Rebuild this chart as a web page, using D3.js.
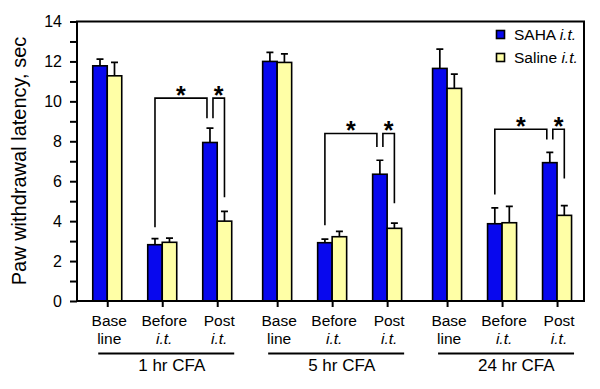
<!DOCTYPE html>
<html>
<head>
<meta charset="utf-8">
<script src="https://cdn.jsdelivr.net/npm/d3@7"></script>
<style>
  body { margin: 0; background: #fff; }
  text { font-family: "Liberation Sans", Arial, sans-serif; fill: #000; }
</style>
</head>
<body>
<div id="chart"></div>
<script>
// data
const groups = ["1 hr CFA", "5 hr CFA", "24 hr CFA"];
const categories = [["Base", "line"], ["Before", "i.t."], ["Post", "i.t."]];
const seriesNames = ["SAHA", "Saline"];
const sahaMean = [11.78, 2.82, 7.94, 12.0, 2.92, 6.35, 11.65, 3.87, 6.93];
const sahaErr = [0.34, 0.30, 0.72, 0.45, 0.18, 0.70, 0.97, 0.79, 0.51];
const salineMean = [11.28, 2.94, 4.0, 11.95, 3.22, 3.64, 10.65, 3.92, 4.29];
const salineErr = [0.67, 0.21, 0.49, 0.43, 0.27, 0.26, 0.71, 0.82, 0.49];
const yTicks = d3.range(0, 15, 1);
// significance brackets per group (values in sec)
const bracketTop = [10.16, 8.39, 8.6];
const bracketLeft = [3.7, 3.79, 5.34];   // leg over "Before" SAHA
const bracketMid = [9.16, 7.72, 8.09];   // legs over "Post" SAHA
const bracketRight = [5.2, 4.9, 6.13];   // leg over "Post" saline

const width = 600, height = 389;
const mLeft = 77, mRight = 584, mTop = 21.5, mBottom = 301;
const blue = "#0808ee", yellow = "#ffffa6";
const barW = 14.5;

const svg = d3.select("#chart").append("svg")
    .attr("width", width)
    .attr("height", height);

// category position = group offset + index within group
const rows = [];
groups.forEach((g, gi) => categories.forEach((c, ci) => {
    const i = gi * 3 + ci;
    rows.push({ gi, ci, pos: gi * 3.09 + ci, label: c,
        saha: sahaMean[i], sahaE: sahaErr[i], saline: salineMean[i], salineE: salineErr[i] });
}));

const x = d3.scaleLinear().domain([-0.55, 8.67]).range([mLeft, mRight]);
const y = d3.scaleLinear().domain([0, 14]).range([mBottom, mTop]);

// bars
const bars = [];
rows.forEach(d => {
    bars.push({ x0: x(d.pos) - barW, v: d.saha, e: d.sahaE, fill: blue });
    bars.push({ x0: x(d.pos), v: d.saline, e: d.salineE, fill: yellow });
});

svg.selectAll(".err").data(bars).enter().append("path")
    .attr("class", "err")
    .attr("d", d => {
        const cx = d.x0 + barW / 2, yt = y(d.v + d.e);
        return `M${cx},${y(d.v)}V${yt}M${cx - 3.5},${yt}H${cx + 3.5}`;
    })
    .attr("stroke", "#000").attr("stroke-width", 1.7).attr("fill", "none");

svg.selectAll(".bar").data(bars).enter().append("rect")
    .attr("class", "bar")
    .attr("x", d => d.x0)
    .attr("y", d => y(d.v))
    .attr("width", barW)
    .attr("height", d => y(0) - y(d.v))
    .attr("fill", d => d.fill)
    .attr("stroke", "#000").attr("stroke-width", 1.6);

// brackets + stars
groups.forEach((g, gi) => {
    const before = rows[gi * 3 + 1], post = rows[gi * 3 + 2];
    const xl = x(before.pos) - barW / 2;
    const xm = x(post.pos) - barW / 2;
    const xr = x(post.pos) + barW / 2;
    const yt = y(bracketTop[gi]);
    svg.append("path")
        .attr("d", `M${xl},${y(bracketLeft[gi])}V${yt}H${xm - 3}V${y(bracketMid[gi])}`
            + `M${xm + 3},${y(bracketMid[gi])}V${yt}H${xr}V${y(bracketRight[gi])}`)
        .attr("stroke", "#000").attr("stroke-width", 1.6).attr("fill", "none");
    [(xl + xm - 3) / 2, (xm + 3 + xr) / 2].forEach(sx => {
        svg.append("text")
            .attr("x", sx).attr("y", yt + 6)
            .attr("text-anchor", "middle")
            .style("font-size", "25px").style("font-weight", "bold")
            .text("*");
    });
});

// y axis
const yAxis = d3.axisLeft(y).tickValues(yTicks).tickSize(7).tickPadding(8)
    .tickFormat(d => d % 2 === 0 ? d : "");
const gy = svg.append("g").attr("transform", `translate(${mLeft},0)`).call(yAxis);
gy.select(".domain").remove();
gy.selectAll("line").attr("stroke-width", 2);
gy.selectAll("text").style("font-size", "16px").style("font-family", "Liberation Sans, Arial, sans-serif");

// x axis ticks
const xAxis = d3.axisBottom(x).tickValues(rows.map(d => d.pos)).tickSize(6).tickFormat("");
const gx = svg.append("g").attr("transform", `translate(0,${mBottom})`).call(xAxis);
gx.select(".domain").remove();
gx.selectAll("line").attr("stroke-width", 2);

// frame
svg.append("rect")
    .attr("x", mLeft).attr("y", mTop)
    .attr("width", mRight - mLeft).attr("height", mBottom - mTop)
    .attr("fill", "none").attr("stroke", "#000").attr("stroke-width", 2);

// category labels
rows.forEach(d => {
    const t = svg.append("text")
        .attr("x", x(d.pos) + 2).attr("y", 326)
        .attr("text-anchor", "middle").style("font-size", "15.5px");
    t.append("tspan").text(d.label[0]);
    t.append("tspan").attr("x", x(d.pos) + 2).attr("dy", 18)
        .style("font-style", d.ci === 0 ? "normal" : "italic")
        .text(d.label[1]);
});

// group lines and labels
groups.forEach((g, gi) => {
    const x0 = x(rows[gi * 3].pos) - 9, x1 = x(rows[gi * 3 + 2].pos) + 17;
    svg.append("line")
        .attr("x1", x0).attr("x2", x1).attr("y1", 353.5).attr("y2", 353.5)
        .attr("stroke", "#000").attr("stroke-width", 2);
    svg.append("text")
        .attr("x", x0 + 40).attr("y", 371)
        .style("font-size", "17px")
        .text(g);
});

// y title
svg.append("text")
    .attr("transform", `translate(26,161) rotate(-90)`)
    .attr("text-anchor", "middle")
    .style("font-size", "20px")
    .text("Paw withdrawal latency, sec");

// legend
[[blue, 30.5, 39.5], [yellow, 53.5, 62.5]].forEach(([c, ys, yb], i) => {
    svg.append("rect")
        .attr("x", 496.5).attr("y", ys).attr("width", 8).attr("height", 8)
        .attr("fill", c).attr("stroke", "#000").attr("stroke-width", 1.6);
    const t = svg.append("text").attr("x", 514).attr("y", yb).style("font-size", "15.5px");
    t.append("tspan").text(seriesNames[i] + " ");
    t.append("tspan").style("font-style", "italic").text("i.t.");
});
</script>
</body>
</html>
